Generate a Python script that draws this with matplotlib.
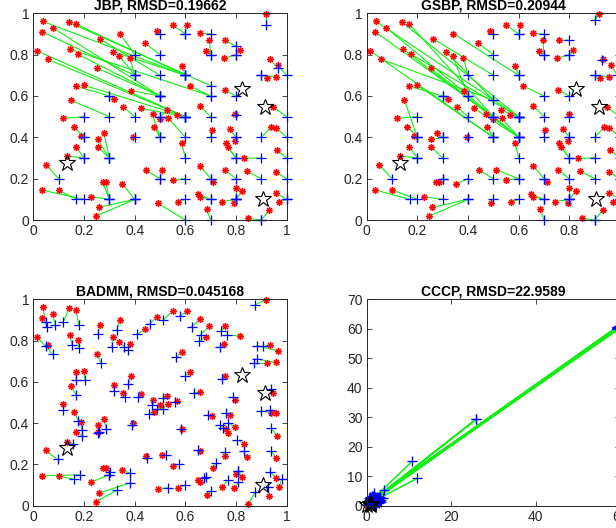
# sensor localisation results, 4 solvers side by side (matlab-style figure)

import matplotlib.pyplot as plt
import numpy as np

plt.rcParams['font.family'] = ['Liberation Sans', 'DejaVu Sans']

anchors = [(0.132, 0.278), (0.825, 0.632), (0.916, 0.548), (0.906, 0.100)]

# true sensor positions (red)
true_pos = [
    (0.037, 0.961), (0.033, 0.911), (0.076, 0.931), (0.141, 0.956), (0.168, 0.948),
    (0.013, 0.819), (0.057, 0.777), (0.145, 0.826), (0.175, 0.802), (0.263, 0.876),
    (0.342, 0.902), (0.313, 0.815), (0.339, 0.795), (0.382, 0.782), (0.253, 0.734),
    (0.441, 0.855), (0.487, 0.915), (0.550, 0.944), (0.605, 0.942), (0.658, 0.903),
    (0.695, 0.871), (0.680, 0.819), (0.758, 0.869), (0.753, 0.782), (0.816, 0.823),
    (0.586, 0.747), (0.917, 0.998), (0.934, 0.777), (0.964, 0.750), (0.921, 0.689),
    (0.958, 0.694), (0.167, 0.648), (0.200, 0.652), (0.618, 0.648), (0.386, 0.626),
    (0.320, 0.584), (0.757, 0.629), (0.149, 0.579), (0.355, 0.548), (0.425, 0.540),
    (0.471, 0.511), (0.529, 0.532), (0.533, 0.492), (0.566, 0.508), (0.658, 0.552),
    (0.797, 0.513), (0.947, 0.548), (0.118, 0.492), (0.500, 0.488), (0.161, 0.452),
    (0.187, 0.406), (0.279, 0.419), (0.254, 0.390), (0.254, 0.355), (0.395, 0.403),
    (0.476, 0.452), (0.168, 0.355), (0.132, 0.310), (0.049, 0.268), (0.586, 0.371),
    (0.705, 0.435), (0.776, 0.439), (0.759, 0.371), (0.767, 0.352), (0.795, 0.381),
    (0.833, 0.298), (0.937, 0.448), (0.958, 0.447), (0.961, 0.339), (0.958, 0.231),
    (0.658, 0.263), (0.711, 0.185), (0.443, 0.242), (0.509, 0.244), (0.550, 0.194),
    (0.757, 0.242), (0.842, 0.237), (0.286, 0.185), (0.274, 0.182), (0.352, 0.174),
    (0.034, 0.145), (0.100, 0.145), (0.226, 0.113), (0.258, 0.061), (0.247, 0.019),
    (0.492, 0.081), (0.570, 0.085), (0.649, 0.126), (0.657, 0.113), (0.684, 0.052),
    (0.743, 0.089), (0.800, 0.153), (0.825, 0.140), (0.793, 0.084), (0.849, 0.008),
    (0.932, 0.048), (0.971, 0.089), (0.958, 0.132),
]

jbp_est = [
    (0.6, 0.7), (0.4, 0.7), (0.5, 0.6), (0.7, 0.65), (0.6, 0.7),
    (0.6, 0.5), (0.6, 0.5), (0.7, 0.6), (0.5, 0.6), (0.5, 0.7),
    (0.4, 0.8), (0.6, 0.7), (0.4, 0.7), (0.4, 0.7), (0.5, 0.6),
    (0.5, 0.8), (0.5, 0.9), (0.6, 0.9), (0.6, 0.9), (0.7, 0.9),
    (0.7, 0.8), (0.7, 0.8), (0.8, 0.84), (0.8, 0.8), (0.8, 0.8),
    (0.6, 0.7), (0.917, 0.944), (0.964, 0.737), (1.0, 0.7), (0.9, 0.7),
    (0.9, 0.7), (0.3, 0.6), (0.6, 0.5), (0.7, 0.6), (0.5, 0.6),
    (0.3, 0.6), (0.8, 0.6), (0.3, 0.5), (0.4, 0.5), (0.6, 0.5),
    (0.5, 0.4), (0.5, 0.5), (0.6, 0.4), (0.6, 0.5), (0.7, 0.5),
    (0.8, 0.51), (1.0, 0.5), (0.2, 0.5), (0.5, 0.5), (0.2, 0.4),
    (0.2, 0.4), (0.3, 0.3), (0.3, 0.3), (0.3, 0.3), (0.4, 0.4),
    (0.5, 0.4), (0.2, 0.3), (0.2, 0.3), (0.1, 0.2), (0.6, 0.3),
    (0.7, 0.4), (0.8, 0.4), (0.8, 0.3), (0.8, 0.3), (0.8, 0.4),
    (0.9, 0.3), (0.9, 0.4), (1.0, 0.4), (1.0, 0.3), (1.0, 0.2),
    (0.7, 0.2), (0.7, 0.2), (0.5, 0.2), (0.5, 0.2), (0.6, 0.2),
    (0.8, 0.2), (0.9, 0.2), (0.3, 0.1), (0.3, 0.1), (0.4, 0.1),
    (0.2, 0.1), (0.17, 0.1), (0.3, 0.1), (0.4, 0.1), (0.4, 0.1),
    (0.6, 0.0), (0.6, 0.1), (0.7, 0.1), (0.7, 0.1), (0.7, 0.0),
    (0.8, 0.1), (0.8, 0.1), (0.8, 0.1), (0.8, 0.1), (0.9, 0.0),
    (0.9, 0.0), (1.0, 0.1), (1.0, 0.1),
]

gsbp_est = [
    (0.6, 0.5), (0.5, 0.5), (0.6, 0.4), (0.6, 0.5), (0.5, 0.5),
    (0.5, 0.4), (0.5, 0.58), (0.6, 0.4), (0.6, 0.5), (0.5, 0.7),
    (0.6, 0.7), (0.5, 0.58), (0.4, 0.6), (0.4, 0.7), (0.6, 0.4),
    (0.5, 0.8), (0.5, 0.9), (0.6, 0.9), (0.6, 0.9), (0.7, 0.9),
    (0.7, 0.8), (0.7, 0.8), (0.8, 0.87), (0.8, 0.8), (0.8, 0.8),
    (0.6, 0.7), (0.9, 0.968), (0.93, 0.775), (0.99, 0.7), (0.9, 0.7),
    (0.9, 0.7), (0.3, 0.6), (0.5, 0.4), (0.7, 0.6), (0.4, 0.6),
    (0.3, 0.6), (0.8, 0.6), (0.2, 0.4), (0.4, 0.5), (0.6, 0.4),
    (0.5, 0.5), (0.6, 0.5), (0.6, 0.4), (0.6, 0.5), (0.7, 0.5),
    (0.8, 0.5), (1.0, 0.5), (0.2, 0.5), (0.5, 0.5), (0.2, 0.4),
    (0.2, 0.4), (0.3, 0.4), (0.3, 0.4), (0.3, 0.3), (0.4, 0.4),
    (0.5, 0.4), (0.2, 0.3), (0.2, 0.3), (0.1, 0.2), (0.6, 0.3),
    (0.7, 0.4), (0.8, 0.4), (0.8, 0.3), (0.8, 0.3), (0.8, 0.4),
    (0.9, 0.3), (0.9, 0.4), (1.0, 0.4), (1.0, 0.3), (1.0, 0.2),
    (0.7, 0.2), (0.7, 0.2), (0.5, 0.2), (0.6, 0.2), (0.6, 0.2),
    (0.8, 0.2), (0.9, 0.2), (0.3, 0.2), (0.3, 0.2), (0.4, 0.2),
    (0.17, 0.1), (0.2, 0.1), (0.3, 0.1), (0.4, 0.1), (0.4, 0.1),
    (0.5, 0.1), (0.6, 0.1), (0.7, 0.1), (0.7, 0.1), (0.7, 0.0),
    (0.8, 0.1), (0.8, 0.1), (0.8, 0.1), (0.8, 0.1), (0.9, 0.0),
    (0.9, 0.0), (1.0, 0.1), (1.0, 0.1),
]

badmm_est = [
    (0.053, 0.864), (0.050, 0.890), (0.087, 0.876), (0.118, 0.889), (0.180, 0.876),
    (0.076, 0.734), (0.052, 0.775), (0.153, 0.777), (0.180, 0.765), (0.254, 0.830),
    (0.330, 0.853), (0.310, 0.768), (0.359, 0.771), (0.374, 0.752), (0.266, 0.690),
    (0.410, 0.830), (0.461, 0.882), (0.513, 0.900), (0.578, 0.918), (0.625, 0.868),
    (0.660, 0.828), (0.655, 0.796), (0.740, 0.845), (0.735, 0.768), (0.763, 0.826),
    (0.563, 0.718), (0.876, 0.973), (0.905, 0.772), (0.882, 0.776), (0.870, 0.690),
    (0.885, 0.710), (0.170, 0.610), (0.205, 0.608), (0.600, 0.630), (0.375, 0.590),
    (0.318, 0.557), (0.745, 0.615), (0.170, 0.535), (0.360, 0.525), (0.415, 0.527),
    (0.470, 0.490), (0.510, 0.520), (0.510, 0.470), (0.560, 0.500), (0.633, 0.547),
    (0.790, 0.525), (0.940, 0.565), (0.118, 0.465), (0.490, 0.470), (0.178, 0.412),
    (0.191, 0.366), (0.287, 0.372), (0.260, 0.356), (0.255, 0.350), (0.390, 0.390),
    (0.455, 0.446), (0.192, 0.340), (0.155, 0.300), (0.096, 0.224), (0.584, 0.370),
    (0.688, 0.440), (0.760, 0.448), (0.737, 0.389), (0.750, 0.375), (0.770, 0.400),
    (0.806, 0.320), (0.935, 0.464), (0.900, 0.460), (0.940, 0.375), (0.940, 0.265),
    (0.652, 0.270), (0.720, 0.205), (0.450, 0.230), (0.525, 0.247), (0.577, 0.200),
    (0.757, 0.260), (0.830, 0.265), (0.303, 0.162), (0.300, 0.150), (0.380, 0.158),
    (0.185, 0.150), (0.160, 0.128), (0.300, 0.150), (0.380, 0.110), (0.330, 0.075),
    (0.530, 0.087), (0.600, 0.100), (0.680, 0.140), (0.675, 0.135), (0.700, 0.070),
    (0.768, 0.123), (0.810, 0.170), (0.810, 0.170), (0.810, 0.113), (0.875, 0.065),
    (0.925, 0.090), (0.980, 0.128), (0.935, 0.165),
]

cccp_est = [
    (59.6, 60.4), (59.8, 60.7), (59.4, 60.1), (59.9, 60.8), (59.5, 60.3),
    (59.7, 60.2), (59.4, 60.6), (59.9, 60.2), (59.6, 60.7), (59.3, 60.0),
    (59.8, 60.5), (59.5, 60.1), (59.7, 60.8), (59.4, 60.3), (59.9, 60.6),
    (10.7, 15.0), (25.9, 29.4), (0.9, 1.3), (1.2, 0.7), (0.6, 1.6),
    (1.4, 1.1), (0.8, 0.5), (1.7, 1.4), (1.1, 0.9), (1.9, 1.2),
    (26.0, 29.3), (1.3, 2.1), (2.2, 1.5), (1.6, 0.8), (2.0, 1.9),
    (1.5, 2.4), (59.6, 60.2), (59.3, 60.7), (1.0, 1.8), (12.0, 9.3),
    (1.7, 4.4), (2.4, 1.1), (59.8, 60.0), (4.0, 5.3), (3.8, 2.5),
    (0.7, 0.9), (1.2, 1.5), (0.9, 0.4), (1.8, 0.6), (2.1, 2.6),
    (1.4, 0.3), (2.6, 1.8), (59.7, 60.5), (0.5, 1.1), (59.5, 60.4),
    (0.3, 0.8), (1.1, 2.7), (0.6, 1.9), (2.8, 2.2), (0.4, 0.6),
    (1.5, 1.7), (0.8, 2.3), (0.2, 1.4), (59.8, 60.3), (2.3, 0.9),
    (1.9, 2.9), (2.7, 1.3), (1.3, 0.5), (3.1, 1.6), (0.9, 2.0),
    (2.5, 2.3), (1.6, 3.2), (3.0, 0.8), (2.2, 0.4), (0.5, 2.5),
    (1.8, 1.0), (2.9, 2.8), (0.7, 1.5), (1.4, 2.2), (2.0, 0.5),
    (3.3, 2.0), (0.4, 1.7), (1.1, 0.6), (2.6, 1.1), (1.7, 2.5),
    (59.6, 60.6), (0.6, 0.3), (1.9, 1.6), (2.4, 3.0), (0.3, 1.0),
    (1.2, 1.9), (2.1, 0.7), (0.8, 2.8), (3.4, 1.2), (1.5, 0.4),
    (2.7, 2.5), (0.9, 1.1), (1.3, 3.4), (2.0, 2.1), (0.6, 0.7),
    (3.2, 2.9), (1.0, 0.2), (2.3, 1.8),
]

titles = ['JBP, RMSD=0.19662', 'GSBP, RMSD=0.20944',
          'BADMM, RMSD=0.045168', 'CCCP, RMSD=22.9589']

unit_ticks = [0, 0.2, 0.4, 0.6, 0.8, 1]
unit_labels = ['0', '0.2', '0.4', '0.6', '0.8', '1']
cccp_xticks = [0, 20, 40, 60]
cccp_yticks = [0, 10, 20, 30, 40, 50, 60, 70]

dark = (0.15, 0.15, 0.15)


def draw_panel(ax, est, title, lw=0.8):
    t = np.array(true_pos)
    e = np.array(est)
    a = np.array(anchors)
    for i in range(len(t)):
        ax.plot([t[i, 0], e[i, 0]], [t[i, 1], e[i, 1]], color='#11ee11', lw=lw)
    # pink halo under the red asterisks
    ax.plot(t[:, 0], t[:, 1], 'o', color=(1, 0.6, 0.6), ms=5.5, mec='none',
            alpha=0.5, clip_on=False)
    ax.plot(t[:, 0], t[:, 1], ls='none', marker=(8, 2, 0), color='red', ms=4.8,
            mew=0.8, clip_on=False)
    ax.plot(e[:, 0], e[:, 1], '+', color=(0.45, 0.55, 1), ms=7.5, mew=1.8, alpha=0.25,
            clip_on=False)
    ax.plot(e[:, 0], e[:, 1], '+', color='blue', ms=7.5, mew=0.8, clip_on=False)
    ax.plot(a[:, 0], a[:, 1], '*', mfc='none', mec='black', ms=12, mew=0.8,
            ls='none', clip_on=False)
    ax.set_title(title, fontsize=10, fontweight='bold', pad=3, color='black')
    ax.tick_params(direction='in', top=True, right=True, length=3.5, width=0.6,
                   colors=dark, labelsize=10, pad=3)
    for s in ax.spines.values():
        s.set_color(dark)
        s.set_linewidth(0.7)


fig = plt.figure(figsize=(6.16, 5.28), dpi=100)
boxes = [
    [0.0541, 0.5833, 0.4112, 0.3915],
    [0.5953, 0.5833, 0.4112, 0.3915],
    [0.0541, 0.0422, 0.4112, 0.3910],
    [0.5953, 0.0422, 0.4112, 0.3910],
]
ests = [jbp_est, gsbp_est, badmm_est, cccp_est]

for k in range(4):
    ax = fig.add_axes(boxes[k])
    if k < 3:
        draw_panel(ax, ests[k], titles[k])
        ax.set_xlim(0, 1)
        ax.set_ylim(0, 1)
        ax.set_xticks(unit_ticks)
        ax.set_xticklabels(unit_labels)
        ax.set_yticks(unit_ticks)
        ax.set_yticklabels(unit_labels)
    else:
        draw_panel(ax, ests[k], titles[k], lw=1.1)
        ax.set_xlim(0, 60)
        ax.set_ylim(0, 70)
        ax.set_xticks(cccp_xticks)
        ax.set_yticks(cccp_yticks)

plt.savefig('out.png', dpi=100)
